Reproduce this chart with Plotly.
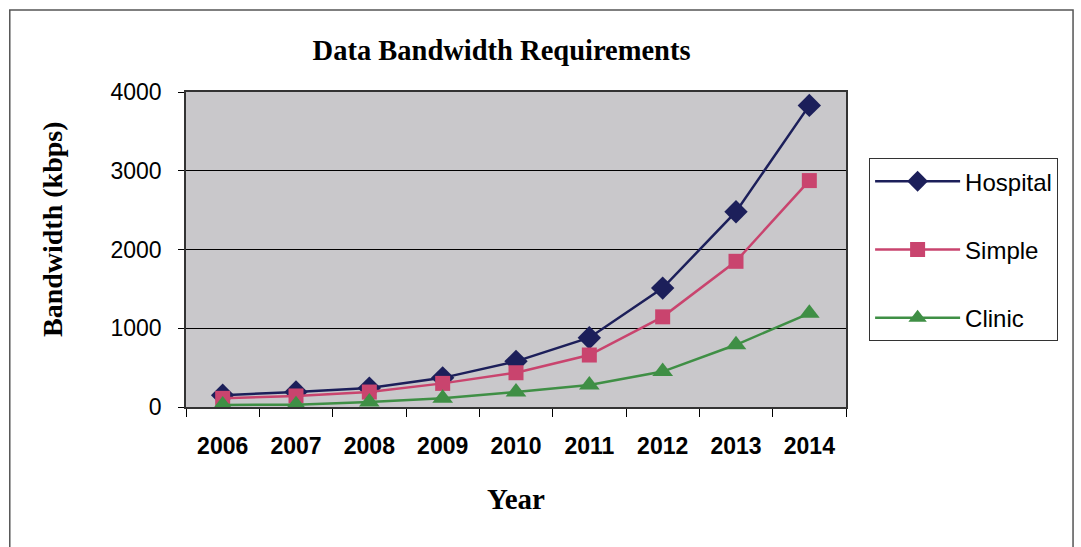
import plotly.graph_objects as go

years = ["2006", "2007", "2008", "2009", "2010", "2011", "2012", "2013", "2014"]
hospital = [150, 190, 240, 370, 580, 880, 1510, 2480, 3830]
simple = [110, 140, 190, 300, 435, 660, 1145, 1850, 2875]
clinic = [25, 30, 65, 110, 190, 280, 450, 790, 1190]

fig = go.Figure()
fig.add_trace(go.Scatter(x=years, y=hospital, name="Hospital", mode="lines+markers",
                         line=dict(color="#1c1f5a", width=2.5),
                         marker=dict(symbol="diamond", size=18, color="#1c1f5a"),
                         legendgroup="g0"))
fig.add_trace(go.Scatter(x=years, y=simple, name="Simple", mode="lines+markers",
                         line=dict(color="#c9446e", width=2.5),
                         marker=dict(symbol="square", size=15, color="#c9446e"),
                         legendgroup="g1"))
fig.add_trace(go.Scatter(x=years, y=clinic, name="Clinic", mode="lines+markers",
                         line=dict(color="#3f8f45", width=2.5),
                         marker=dict(symbol="triangle-up", size=18, color="#3f8f45"),
                         legendgroup="g2"))

fig.update_layout(
    width=1081, height=547,
    margin=dict(l=186, r=235, t=92, b=140),
    paper_bgcolor="white",
    plot_bgcolor="#c9c8cb",
    title=dict(text="<b>Data Bandwidth Requirements</b>", x=0.464, xanchor="center",
               y=0.908, yanchor="middle",
               font=dict(family="Liberation Serif", size=28.5, color="black")),
    showlegend=True,
    legend=dict(x=1.035, xanchor="left", y=0.79, yanchor="top",
                bgcolor="white", bordercolor="#333333", borderwidth=1,
                font=dict(family="Liberation Sans", size=24, color="black"),
                tracegroupgap=34, traceorder="grouped", itemwidth=85),
    shapes=[dict(type="rect", xref="paper", yref="paper", x0=-0.267, x1=1.344,
                 y0=-0.6, y1=1.26, line=dict(color="#555555", width=1.5),
                 fillcolor="rgba(0,0,0,0)", layer="below")],
    annotations=[dict(text="<b>Bandwidth (kbps)</b>", textangle=-90, xref="paper", yref="paper",
                      x=-0.203, y=0.565, xanchor="center", yanchor="middle", showarrow=False,
                      font=dict(family="Liberation Serif", size=28, color="black"))],
)
fig.update_xaxes(
    title=dict(text="<b>Year</b>", font=dict(family="Liberation Serif", size=29, color="black"),
               standoff=30),
    tickfont=dict(family="Liberation Sans", size=23, color="black"),
    tickprefix="<b>", ticksuffix="</b>",
    ticklabelstandoff=18,
    tickson="boundaries", ticks="outside", ticklen=8, tickcolor="black",
    showline=True, linecolor="#333333", linewidth=1.5, mirror=True,
    showgrid=False, range=[-0.5, 8.5],
)
fig.update_yaxes(
    tickfont=dict(family="Liberation Sans", size=23, color="black"),
    ticklabelstandoff=12,
    range=[0, 4000], tickvals=[0, 1000, 2000, 3000, 4000],
    ticks="outside", ticklen=6, tickcolor="black",
    showline=True, linecolor="#333333", linewidth=1.5, mirror=True,
    showgrid=True, gridcolor="black", gridwidth=1, zeroline=False,
)
fig.write_html("out.html")
